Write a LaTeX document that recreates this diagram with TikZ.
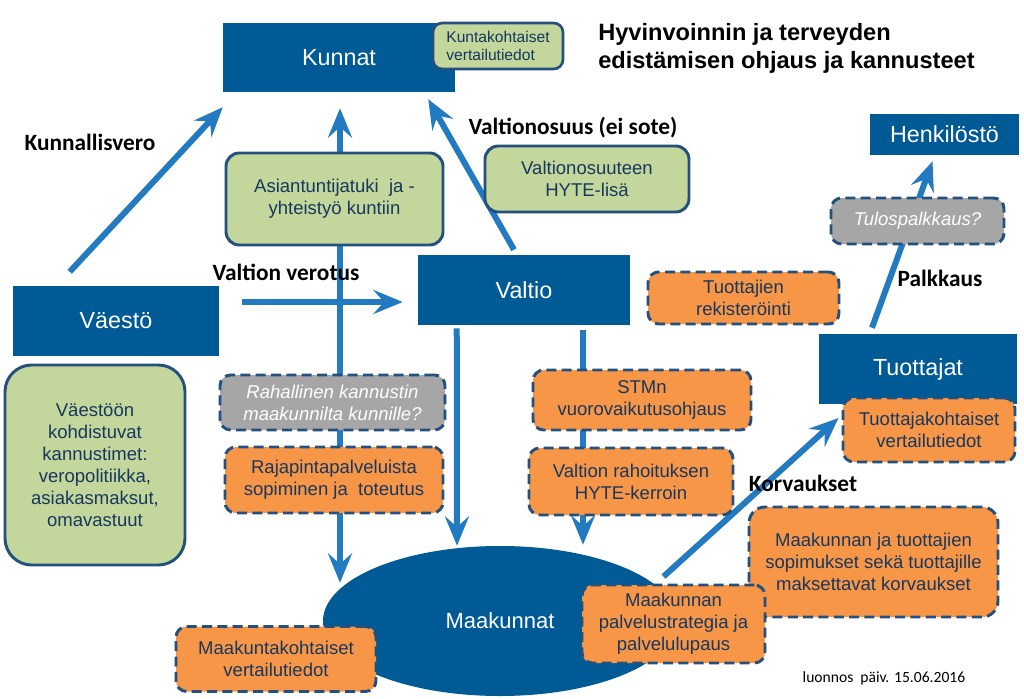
\documentclass[tikz,border=0pt]{standalone}
\usepackage{fontspec}
\setmainfont{Liberation Sans}
\newfontfamily\labelfont{Carlito}
\usetikzlibrary{arrows.meta,shapes.geometric,backgrounds}
\definecolor{hyteblue}{RGB}{0,90,150}
\definecolor{hytearrow}{RGB}{34,122,192}
\definecolor{hytegreen}{RGB}{195,214,155}
\definecolor{hyteorange}{RGB}{247,150,70}
\definecolor{hytegray}{RGB}{166,166,166}
\definecolor{hyteline}{RGB}{36,80,125}
\definecolor{hytetext}{RGB}{23,55,94}
\newdimen\pxu \pxu=0.75pt
\newcommand{\bigfont}{\fontsize{17.5pt}{21pt}\selectfont}
\newcommand{\boxfont}{\fontsize{13.9pt}{16.5pt}\selectfont}
\newcommand{\arrowfont}{\labelfont\bfseries\fontsize{17.5pt}{21pt}\selectfont}
\begin{document}
\begin{tikzpicture}[x=0.75pt, y=-0.75pt,
    bluebox/.style={fill=hyteblue, text=white, font=\bigfont, inner sep=0pt},
    greenbox/.style={fill=hytegreen, draw=hyteline, line width=2.2pt, rounded corners=10pt, text=hytetext, font=\boxfont, align=center, inner sep=0pt},
    orangebox/.style={fill=hyteorange, draw=hyteline, line width=2.2pt, dash pattern=on 7.5pt off 4pt, rounded corners=8pt, text=hytetext, font=\boxfont, align=center, inner sep=0pt},
    graybox/.style={orangebox, fill=hytegray, text=white, font=\boxfont\itshape},
    flowtip/.tip={Stealth[length=22pt, width=18pt, inset=8pt]},
    flow/.style={draw=hytearrow, line width=4.5pt, -flowtip},
    arrowlabel/.style={font=\arrowfont, text=black, inner sep=0pt}]
                    \useasboundingbox (0,0) rectangle (1024,699);
                    % blue boxes
                    \node[bluebox, minimum width=232\pxu, minimum height=69\pxu] (kunnat) at (339,57.5) {Kunnat};
                    \node[bluebox, minimum width=206\pxu, minimum height=70\pxu] (vaesto) at (116,321) {Väestö};
                    \node[bluebox, minimum width=212\pxu, minimum height=70\pxu] (valtio) at (524,290) {Valtio};
                    \node[bluebox, minimum width=149\pxu, minimum height=41\pxu] (henkilosto) at (944.5,134.5) {Henkilöstö};
                    \node[bluebox, minimum width=198\pxu, minimum height=70\pxu] (tuottajat) at (918,369) {Tuottajat};
                    \node[bluebox, ellipse, minimum width=354\pxu, minimum height=150\pxu, font=\fontsize{16.5pt}{20pt}\selectfont] (maakunnat) at (500,621) {Maakunnat};
                    % green boxes
                    \node[greenbox, rounded corners=7pt, line width=2pt, align=left, font=\fontsize{11.7pt}{14pt}\selectfont, minimum width=130\pxu, minimum height=46\pxu] (kuntakoht) at (498,46) {Kuntakohtaiset\\vertailutiedot};
                    \node[greenbox, minimum width=217\pxu, minimum height=92\pxu] (asiantuntija) at (334.5,199) {Asiantuntijatuki\ \ ja -\\yhteistyö kuntiin};
                    \node[greenbox, minimum width=204\pxu, minimum height=66\pxu] (vos) at (587,179) {Valtionosuuteen\\HYTE-lisä};
                    \node[greenbox, rounded corners=20pt, minimum width=180\pxu, minimum height=200\pxu] (kannustimet) at (95,465) {Väestöön\\kohdistuvat\\kannustimet:\\veropolitiikka,\\asiakasmaksut,\\omavastuut};
                    % dashed boxes
                    \node[graybox, minimum width=225\pxu, minimum height=55\pxu] (rahallinen) at (332.5,402.5) {Rahallinen kannustin\\maakunnilta kunnille?};
                    \node[orangebox, minimum width=218\pxu, minimum height=66\pxu] (rajapinta) at (334,480) {Rajapintapalveluista\\sopiminen ja\ \ toteutus};
                    \node[orangebox, minimum width=218\pxu, minimum height=60\pxu] (stmn) at (642,400) {STMn\\vuorovaikutusohjaus};
                    \node[orangebox, minimum width=204\pxu, minimum height=67\pxu] (kerroin) at (631,481.5) {Valtion rahoituksen\\HYTE-kerroin};
                    \node[orangebox, minimum width=191\pxu, minimum height=52\pxu] (rekisteri) at (743.5,298) {Tuottajien\\rekisteröinti};
                    \node[graybox, minimum width=173\pxu, minimum height=46\pxu] (tulospalkkaus) at (917.5,221) {Tulospalkkaus?};
                    \node[orangebox, minimum width=172\pxu, minimum height=64\pxu] (tuottajakoht) at (929,430) {Tuottajakohtaiset\\vertailutiedot};
                    \node[orangebox, rounded corners=12pt, minimum width=249\pxu, minimum height=110\pxu] (sopimukset) at (873.5,562) {Maakunnan ja tuottajien\\sopimukset sekä tuottajille\\maksettavat korvaukset};
                    \node[orangebox, minimum width=183\pxu, minimum height=78\pxu] (strategia) at (673.5,624) {Maakunnan\\palvelustrategia ja\\palvelulupaus};
                    \node[orangebox, minimum width=200\pxu, minimum height=65\pxu] (maakuntakoht) at (276,659) {Maakuntakohtaiset\\vertailutiedot};
                    % texts
                    \node[anchor=north west, align=left, inner sep=0pt, font=\bfseries\fontsize{17.7pt}{21.2pt}\selectfont] (otsikko) at (598,23) {Hyvinvoinnin ja terveyden\\edistämisen ohjaus ja kannusteet};
                    \node[arrowlabel] (kunnallisvero) at (90,142) {Kunnallisvero};
                    \node[arrowlabel] (verotus) at (286,272) {Valtion verotus};
                    \node[arrowlabel] (valtionosuus) at (573,128) {Valtionosuus (ei sote)};
                    \node[arrowlabel] (palkkaus) at (940,278) {Palkkaus};
                    \node[arrowlabel] (korvaukset) at (803,483) {Korvaukset};
                    \node[font=\labelfont\fontsize{11.7pt}{14pt}\selectfont, inner sep=0pt] (luonnos) at (884,678) {luonnos\ \ päiv. 15.06.2016};
                    \begin{scope}[on background layer]
                    \fill[white] (0,0) rectangle (1024,699);
                    \draw[flow] ([shift={(57,-14)}]vaesto.north west) -- ([shift={(0,15)}]kunnat.south west);
                    \draw[flow, flowtip-flowtip] ([shift={(1,16)}]kunnat.south) -- ([shift={(-160,37)}]maakunnat.north);
                    \draw[flow] ([shift={(-10,-5)}]valtio.north) -- ([shift={(-27,7)}]kunnat.south east);
                    \draw[flow] ([shift={(23,-19)}]vaesto.east) -- ([shift={(-15,12)}]valtio.west);
                    \draw[flow] ([shift={(39,3)}]valtio.south west) -- ([shift={(-43,0)}]maakunnat.north);
                    \draw[flow] ([shift={(59,5)}]valtio.south) -- ([shift={(83,-1)}]maakunnat.north);
                    \draw[flow] ([shift={(-10,-7)}]strategia.north) -- ([shift={(-3,-12)}]tuottajakoht.west);
                    \draw[flow] ([shift={(-46,-6)}]tuottajat.north) -- ([shift={(-12,6)}]henkilosto.south);
                    % \draw[flow] (rahallinen.north) -- (asiantuntija.south);
                    \end{scope}
                \end{tikzpicture}
\end{document}
